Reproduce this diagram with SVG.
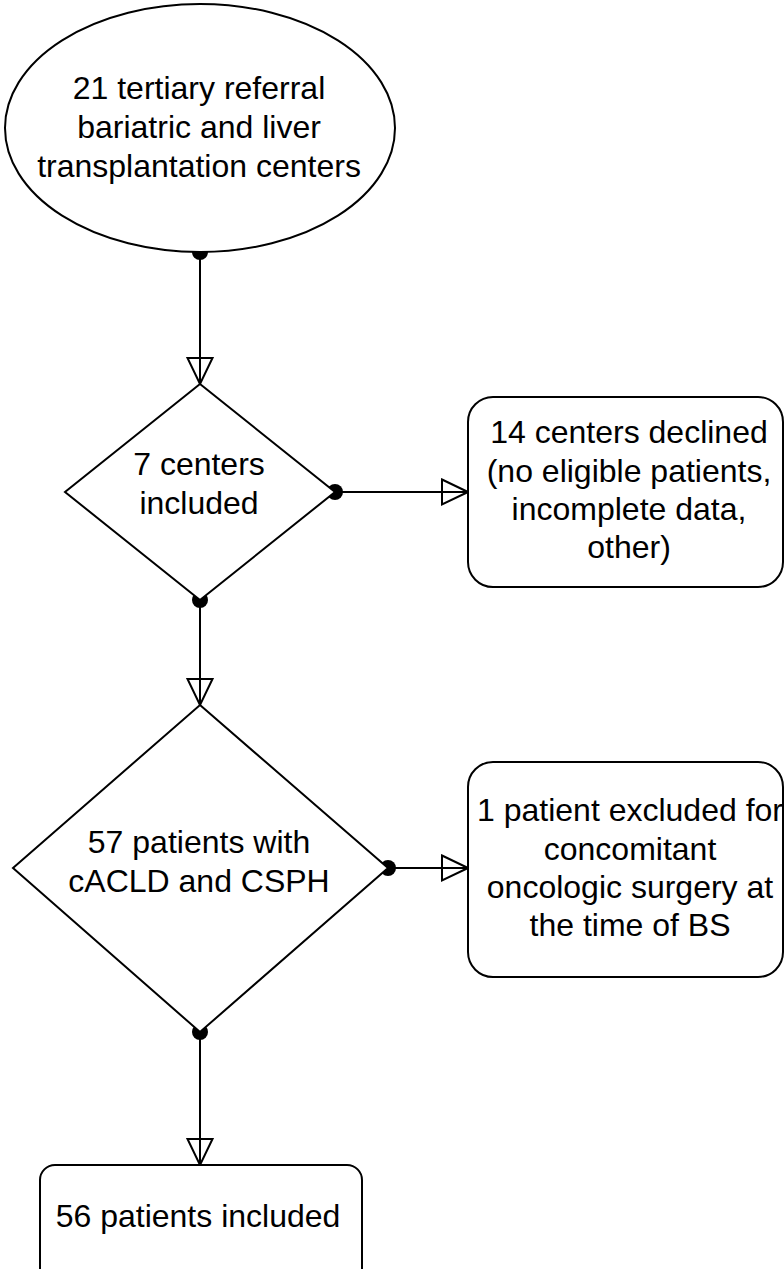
<svg xmlns="http://www.w3.org/2000/svg" width="784" height="1269" viewBox="0 0 784 1269">
<style>
.shape{fill:#fff;stroke:#000;stroke-width:2}
.edge{fill:none;stroke:#000;stroke-width:2}
.dot{fill:#000}
text{font-family:"Liberation Sans",Arial,Helvetica,sans-serif;font-size:32px;fill:#000;text-anchor:middle}
</style>
<defs>
<marker id="openTri" markerUnits="userSpaceOnUse" markerWidth="30" markerHeight="30" viewBox="-2 -2 30 29" refX="26" refY="12.5" orient="auto">
<path d="M0,0 L26,12.5 L0,25 Z" fill="none" stroke="#000" stroke-width="2"/>
</marker>
</defs>
<rect width="784" height="1269" fill="#fff"/>
<g id="connectors">
<line class="edge" x1="200" y1="252" x2="200" y2="384" marker-end="url(#openTri)"/>
<circle class="dot" cx="200" cy="252" r="8"/>
<line class="edge" x1="335" y1="492" x2="468" y2="492" marker-end="url(#openTri)"/>
<circle class="dot" cx="335" cy="492" r="8"/>
<line class="edge" x1="200" y1="600" x2="200" y2="705" marker-end="url(#openTri)"/>
<circle class="dot" cx="200" cy="600" r="8"/>
<line class="edge" x1="388" y1="868" x2="468" y2="868" marker-end="url(#openTri)"/>
<circle class="dot" cx="388" cy="868" r="8"/>
<line class="edge" x1="200" y1="1032" x2="200" y2="1165" marker-end="url(#openTri)"/>
<circle class="dot" cx="200" cy="1032" r="8"/>
</g>
<g id="start">
<ellipse class="shape" cx="200" cy="128" rx="195" ry="124"/>
<text x="199" y="99">21 tertiary referral</text>
<text x="199" y="138">bariatric and liver</text>
<text x="199" y="177">transplantation centers</text>
</g>
<g id="decision1">
<polygon class="shape" points="200,384 335,492 200,600 65,492"/>
<text x="199" y="475">7 centers</text>
<text x="199" y="514">included</text>
</g>
<g id="declined">
<rect class="shape" x="468" y="397" width="315" height="190" rx="25" ry="25"/>
<text x="629" y="443">14 centers declined</text>
<text x="629" y="482">(no eligible patients,</text>
<text x="629" y="520">incomplete data,</text>
<text x="629" y="558">other)</text>
</g>
<g id="decision2">
<polygon class="shape" points="200,705 388,868 200,1032 13,868"/>
<text x="199" y="853">57 patients with</text>
<text x="199" y="892">cACLD and CSPH</text>
</g>
<g id="excluded">
<rect class="shape" x="468" y="762" width="315" height="215" rx="25" ry="25"/>
<text x="630" y="821">1 patient excluded for</text>
<text x="630" y="860">concomitant</text>
<text x="630" y="898">oncologic surgery at</text>
<text x="630" y="936">the time of BS</text>
</g>
<g id="included">
<rect class="shape" x="40" y="1165" width="322" height="120" rx="15" ry="15"/>
<text x="198" y="1227">56 patients included</text>
</g>
</svg>
